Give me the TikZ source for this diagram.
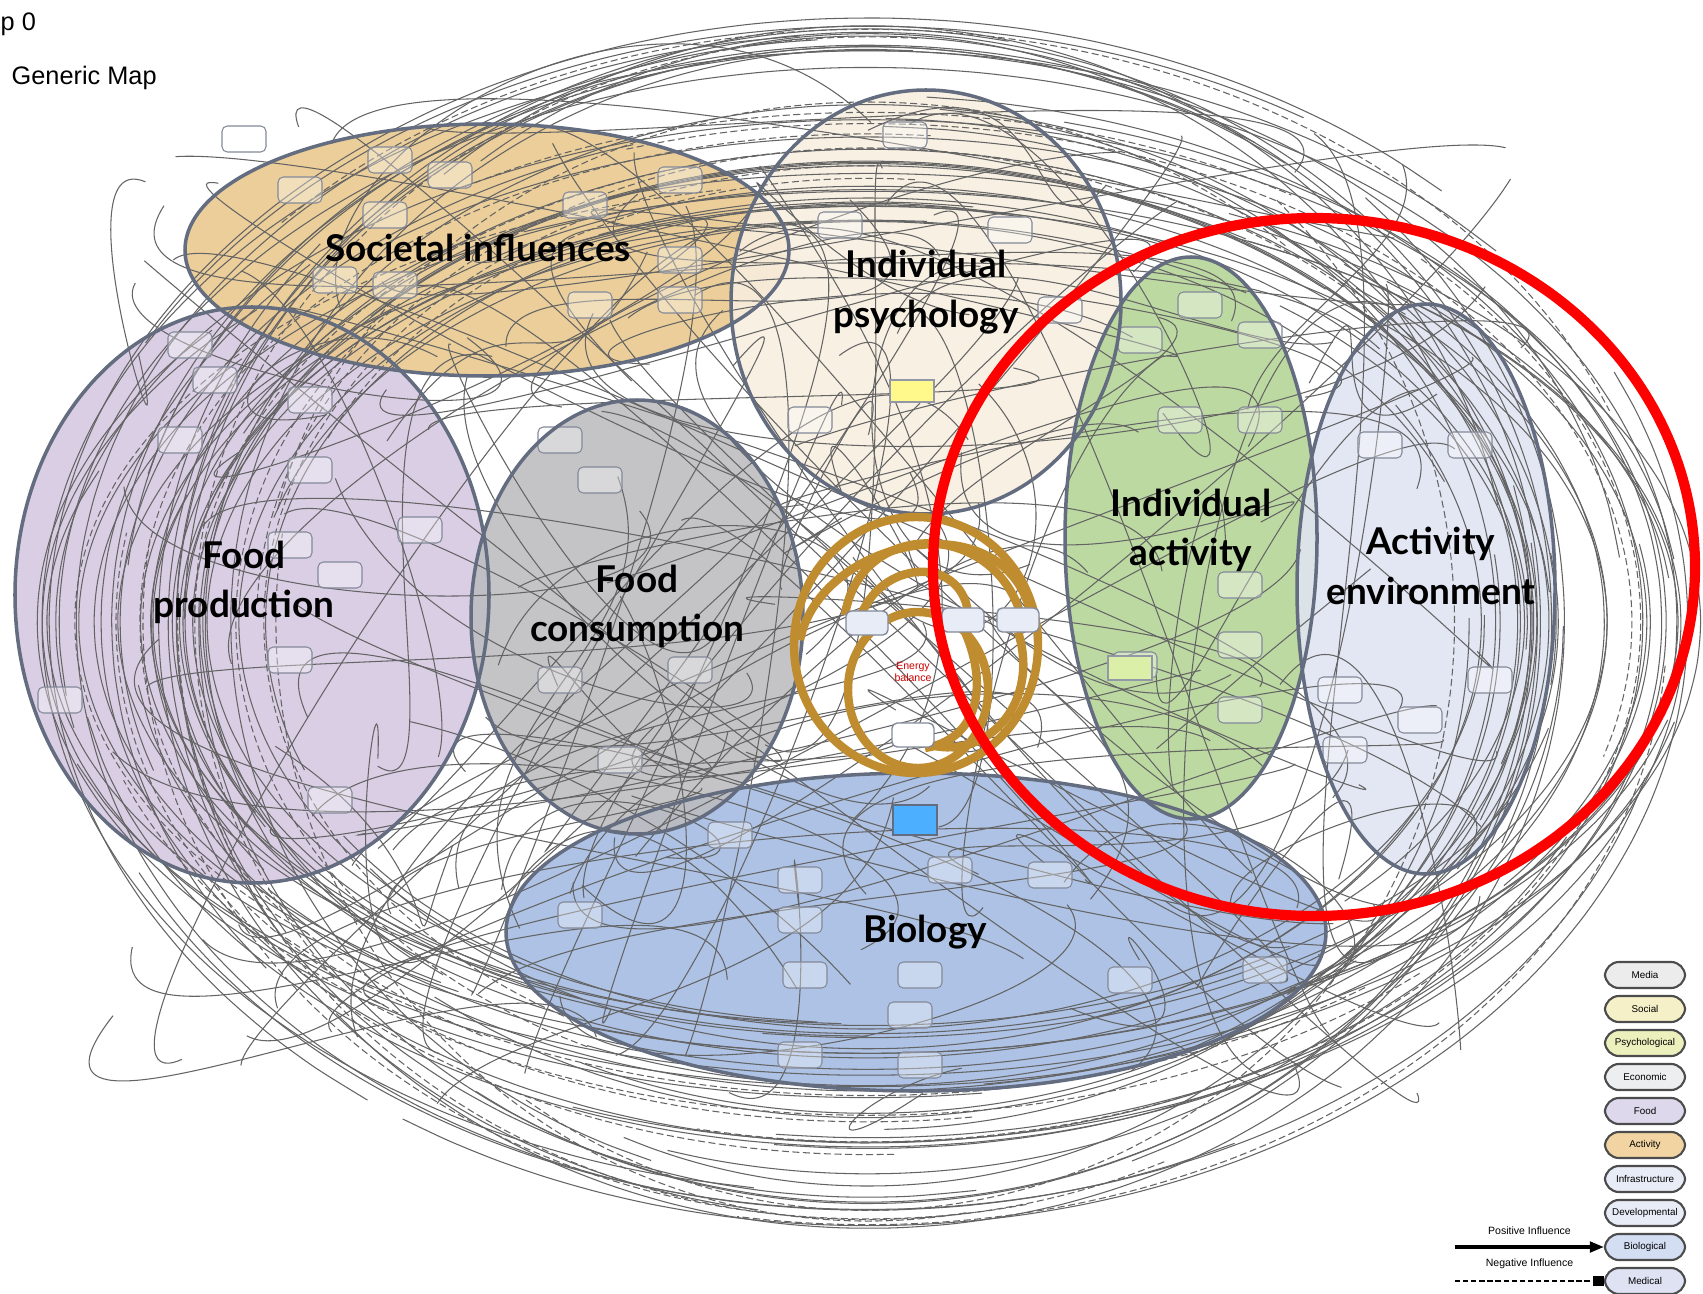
\documentclass[tikz,border=0pt]{standalone}
\usepackage{fontspec}
\setmainfont{Liberation Sans}
\newfontfamily\regionfont{Lato}
\usetikzlibrary{arrows.meta,positioning}

\definecolor{socfill}{RGB}{233,200,140}
\definecolor{psyfill}{RGB}{248,239,224}
\definecolor{prodfill}{RGB}{214,200,226}
\definecolor{consfill}{RGB}{188,188,192}
\definecolor{actfill}{RGB}{180,212,150}
\definecolor{envfill}{RGB}{224,228,242}
\definecolor{biofill}{RGB}{162,186,226}
\definecolor{rimline}{RGB}{100,108,128}
\definecolor{linkgray}{RGB}{100,100,100}
\definecolor{ringbrown}{RGB}{192,140,48}
\definecolor{keymedia}{RGB}{236,236,236}
\definecolor{keysocial}{RGB}{246,240,200}
\definecolor{keypsych}{RGB}{236,240,188}
\definecolor{keyecon}{RGB}{236,238,240}
\definecolor{keyfood}{RGB}{222,216,236}
\definecolor{keyact}{RGB}{242,212,162}
\definecolor{keyinfra}{RGB}{232,236,246}
\definecolor{keydev}{RGB}{232,236,246}
\definecolor{keybio}{RGB}{212,222,242}
\definecolor{keymed}{RGB}{222,226,242}

\tikzset{
  region/.style={draw=rimline, line width=1pt},
  regionfill/.style={fill opacity=0.88},
  regiontext/.style={font=\regionfont\bfseries\fontsize{10.5}{14}\selectfont, align=center, inner sep=0pt},
  link/.style={linkgray, line width=0.3pt},
  tinybox/.style={draw=rimline!80, line width=0.3pt, fill=white, fill opacity=0.35, rounded corners=1.5pt},
  corebox/.style={draw=rimline!80, line width=0.4pt, fill=keyinfra, rounded corners=1.5pt, minimum width=0.42cm, minimum height=0.24cm, inner sep=0pt},
  keybox/.style={draw=gray!60!black, line width=0.6pt, rounded corners=4pt, minimum width=0.8cm, minimum height=0.26cm, inner sep=0pt, font=\fontsize{2.8}{3}\selectfont},
  keynote/.style={font=\fontsize{3}{3.5}\selectfont, inner sep=0pt}
}

\begin{document}
\begin{tikzpicture}[x=0.01cm, y=-0.01cm]
  \useasboundingbox (0,0) rectangle (1703,1294);
  \fill[white] (0,0) rectangle (1703,1294);

  % Map title
  \node[anchor=west, inner sep=0pt, font=\fontsize{7.2}{8}\selectfont] (mapno) at (0,24) {p 0};
  \node[anchor=west, inner sep=0pt, font=\fontsize{7.2}{8}\selectfont] (mapname) at (11,78) {Generic Map};

  % Region fills
  \fill[biofill, regionfill] (916,932) ellipse [x radius=410, y radius=159];
  \fill[prodfill, regionfill] (252,595) ellipse [x radius=237, y radius=288];
  \fill[socfill, regionfill] (487,250) ellipse [x radius=302, y radius=126];
  \fill[psyfill, regionfill] (926,302) ellipse [x radius=195, y radius=212];
  \fill[consfill, regionfill] (637,617) ellipse [x radius=166, y radius=217];
  \fill[actfill, regionfill] (1191,538) ellipse [x radius=126, y radius=281];
  \fill[envfill, regionfill] (1426,589) ellipse [x radius=129, y radius=285];

  % Outer loops around the map
  \pgfmathsetseed{2718}
  \foreach \k in {1,...,80}{
    \pgfmathsetmacro\rx{600+235*rnd}
    \pgfmathsetmacro\ry{400+210*rnd}
    \pgfmathsetmacro\ta{360*rnd}
    \pgfmathsetmacro\tb{\ta+80+150*rnd}
    \draw[link] plot[domain=\ta:\tb, samples=40, smooth] ({868+\rx*cos(\x)},{622+\ry*sin(\x)});
  }
  \foreach \k in {1,...,22}{
    \pgfmathsetmacro\rx{580+250*rnd}
    \pgfmathsetmacro\ry{400+210*rnd}
    \pgfmathsetmacro\ta{360*rnd}
    \pgfmathsetmacro\tb{\ta+60+120*rnd}
    \draw[link, dash pattern=on 2pt off 1pt] plot[domain=\ta:\tb, samples=40, smooth] ({868+\rx*cos(\x)},{622+\ry*sin(\x)});
  }

  % Links between factors
  \foreach \k in {1,...,140}{
    \pgfmathsetmacro\ax{110+1420*rnd}
    \pgfmathsetmacro\ay{110+1000*rnd}
    \pgfmathsetmacro\bx{110+1420*rnd}
    \pgfmathsetmacro\by{110+1000*rnd}
    \pgfmathsetmacro\px{\ax+420*(rnd-0.5)}
    \pgfmathsetmacro\py{\ay+420*(rnd-0.5)}
    \pgfmathsetmacro\qx{\bx+420*(rnd-0.5)}
    \pgfmathsetmacro\qy{\by+420*(rnd-0.5)}
    \draw[link] (\ax,\ay) .. controls (\px,\py) and (\qx,\qy) .. (\bx,\by);
  }

  % Factor boxes
  \foreach \x/\y in {300/190,390/160,385/215,450/175,335/280,395/285,585/205,590/305,680/180,680/260,680/300,244/139,
                     905/135,840/225,1010/230,810/420,1060/310,
                     190/345,215/380,180/440,310/400,310/470,290/545,340/575,420/530,290/660,60/700,330/800,
                     560/440,600/480,560/680,690/670,620/760,
                     1200/305,1140/340,1260/335,1180/420,1260/420,1240/585,1240/645,1240/710,1135/665,
                     1380/445,1470/445,1340/690,1490/680,1420/720,1345/750,
                     730/835,950/870,800/880,800/920,1050/875,805/975,920/975,800/1055,920/1065,1130/980,1265/970,580/915,910/1015}
    \draw[tinybox] (\x-22,\y-13) rectangle (\x+22,\y+13);
  \fill[blue!45!cyan!70!white, draw=rimline] (893,805) rectangle (937,835);
  \fill[yellow!60!green!35!white, draw=rimline!70] (1108,656) rectangle (1152,680);
  \fill[yellow!45!white, draw=rimline!70] (890,380) rectangle (934,402);

  % Region rims
  \draw[region] (916,932) ellipse [x radius=410, y radius=159];
  \draw[region] (252,595) ellipse [x radius=237, y radius=288];
  \draw[region] (487,250) ellipse [x radius=302, y radius=126];
  \draw[region] (926,302) ellipse [x radius=195, y radius=212];
  \draw[region] (637,617) ellipse [x radius=166, y radius=217];
  \draw[region] (1191,538) ellipse [x radius=126, y radius=281];
  \draw[region] (1426,589) ellipse [x radius=129, y radius=285];

  % Energy balance core
  \begin{scope}[ringbrown, line width=2.4pt]
    \draw (916,645) ellipse [x radius=122, y radius=128];
    \draw (918,690) ellipse [x radius=70, y radius=78];
    \draw (845,615) .. controls (860,520) and (990,520) .. (1020,612);
    \draw (860,618) .. controls (880,560) and (960,555) .. (968,612);
    \draw (800,640) .. controls (820,540) and (1000,500) .. (1030,610);
    \draw (1018,632) .. controls (1040,700) and (990,760) .. (930,745);
    \draw (965,632) .. controls (990,690) and (975,740) .. (925,748);
  \end{scope}
  \node[corebox] (coreleft) at (867,623) {};
  \node[corebox] (coremid) at (963,620) {};
  \node[corebox] (coreright) at (1018,620) {};
  \node[corebox, fill=white] (corebottom) at (913,735) {};
  \node[font=\fontsize{3}{3.6}\selectfont, text=red!80!black, align=center] (energy) at (913,672) {Energy\\balance};

  % Region names
  \node[regiontext] (societal) at (478,248) {Societal influences};
  \node[regiontext] (psychology) at (926,292) {Individual\\psychology};
  \node[regiontext] (production) at (244,582) {Food\\production};
  \node[regiontext] (consumption) at (637,606) {Food\\consumption};
  \node[regiontext] (activity) at (1191,530) {Individual\\activity};
  \node[regiontext] (environment) at (1431,566) {Activity\\environment};
  \node[regiontext] (biology) at (925,932) {Biology};

  % Highlight
  \draw[red, line width=2.9pt] (1314,567) ellipse [x radius=381, y radius=349];

  % Key
  \foreach \nm/\txt/\col [count=\n] in {media/Media/keymedia, social/Social/keysocial, psych/Psychological/keypsych,
      econ/Economic/keyecon, food/Food/keyfood, act/Activity/keyact, infra/Infrastructure/keyinfra,
      dev/Developmental/keydev, biological/Biological/keybio, medical/Medical/keymed}
    \node[keybox, fill=\col] (\nm) at (1645,941+34*\n) {\txt};
  \coordinate (posstart) at (1455,1247);
  \coordinate (negstart) at (1455,1281);
  \draw[line width=0.9pt, -{Triangle[length=4pt, width=3pt]}] (posstart) -- (biological.west)
    node[midway, above=3pt, keynote] (postext) {Positive Influence};
  \draw[line width=0.8pt, dash pattern=on 1.5pt off 0.8pt, -{Square[length=3pt, width=3pt]}] (negstart) -- (medical.west)
    node[midway, above=3pt, keynote] (negtext) {Negative Influence};
\end{tikzpicture}
\end{document}
